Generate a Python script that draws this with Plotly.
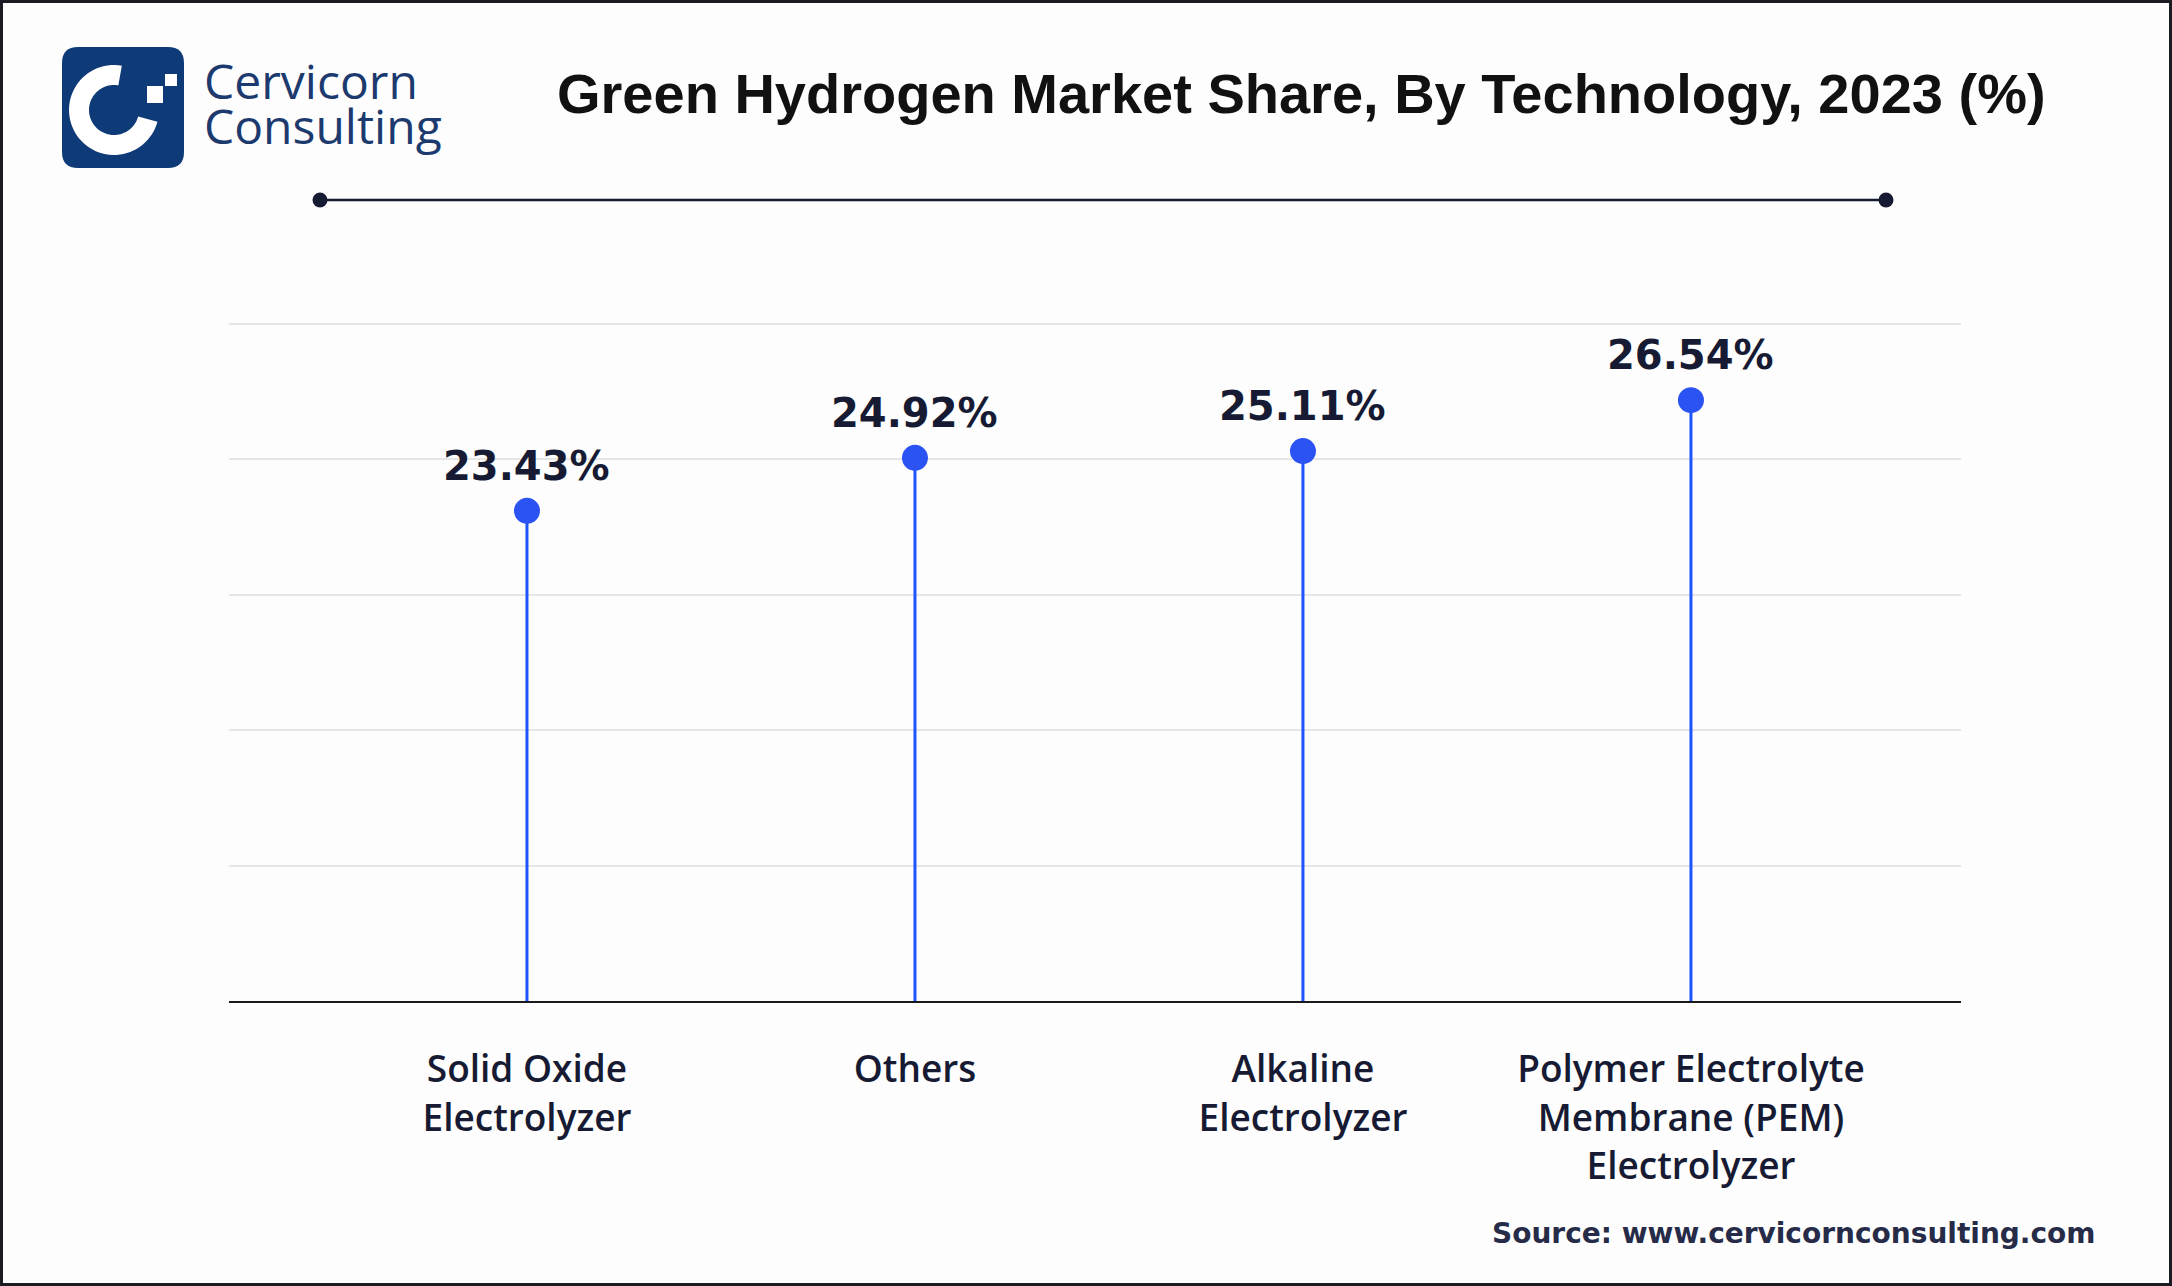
import numpy as np
import plotly.graph_objects as go

# ---------------- data ----------------
categories = [
    "Solid Oxide<br>Electrolyzer",
    "Others",
    "Alkaline<br>Electrolyzer",
    "Polymer Electrolyte<br>Membrane (PEM)<br>Electrolyzer",
]
shares = [23.43, 24.92, 25.11, 26.54]
value_labels = [f"{v:.2f}%" for v in shares]

title_text = "Green Hydrogen Market Share, By Technology, 2023 (%)"
source_text = "Source: www.cervicornconsulting.com"
brand_lines = ["Cervicorn", "Consulting"]

# ---------------- figure geometry ----------------
W, H = 2172, 1286
Y_MIN, Y_MAX = 9.66, 28.68
PAD = 0.2
grid_vals = [Y_MIN + i * (Y_MAX - Y_MIN) / 5 for i in range(6)]
px_per_unit = (1001 - 324) / (Y_MAX - Y_MIN)

INK = "#161b33"
BLUE_LINE = "#1d55fd"
BLUE_DOT = "#2b52f2"


def px(x):
    return x / W


def py(y):
    return 1 - y / H


fig = go.Figure()

# stems
sx, sy = [], []
for c, v in zip(categories, shares):
    sx += [c, c, None]
    sy += [Y_MIN, v, None]
fig.add_trace(go.Scatter(x=sx, y=sy, mode="lines",
                         line=dict(color=BLUE_LINE, width=3),
                         hoverinfo="skip", showlegend=False))
# heads
fig.add_trace(go.Scatter(x=categories, y=shares, mode="markers",
                         marker=dict(color=BLUE_DOT, size=26, line=dict(width=0)),
                         showlegend=False))

# value labels
for c, v, t in zip(categories, shares, value_labels):
    fig.add_annotation(x=c, y=v, xref="x", yref="y", text=t, showarrow=False,
                       yshift=45, yanchor="middle",
                       font=dict(family="DejaVu Sans", size=40, color=INK, weight="bold"))

shapes = []
# outer border
shapes.append(dict(type="rect", xref="paper", yref="paper", x0=px(1.5), x1=px(W - 1.5),
                   y0=py(H - 1.5), y1=py(1.5), line=dict(color="#1b1b24", width=3),
                   fillcolor="rgba(0,0,0,0)", layer="below"))
# decorative rule under title
shapes.append(dict(type="line", xref="paper", yref="paper", x0=px(320), x1=px(1886),
                   y0=py(200), y1=py(200), line=dict(color=INK, width=2.5)))
for cx in (320, 1886):
    shapes.append(dict(type="circle", xref="paper", yref="paper",
                       x0=px(cx - 7.5), x1=px(cx + 7.5), y0=py(200 + 7.5), y1=py(200 - 7.5),
                       fillcolor=INK, line=dict(width=0)))

# logo: rounded square
lx0, lx1, ly0, ly1, r = 62, 184, 47, 168, 16
logo_path = (f"M {px(lx0 + r)},{py(ly0)} L {px(lx1 - r)},{py(ly0)} "
             f"Q {px(lx1)},{py(ly0)} {px(lx1)},{py(ly0 + r)} L {px(lx1)},{py(ly1 - r)} "
             f"Q {px(lx1)},{py(ly1)} {px(lx1 - r)},{py(ly1)} L {px(lx0 + r)},{py(ly1)} "
             f"Q {px(lx0)},{py(ly1)} {px(lx0)},{py(ly1 - r)} L {px(lx0)},{py(ly0 + r)} "
             f"Q {px(lx0)},{py(ly0)} {px(lx0 + r)},{py(ly0)} Z")
shapes.append(dict(type="path", xref="paper", yref="paper", path=logo_path,
                   fillcolor="#0e3a78", line=dict(width=0)))
# logo: white "C" ring
ccx, ccy, ro, ri = 114, 110, 45, 25
ang = np.radians(np.linspace(80, 345, 60))
outer = [(ccx + ro * np.cos(a), ccy - ro * np.sin(a)) for a in ang]
inner = [(ccx + ri * np.cos(a), ccy - ri * np.sin(a)) for a in ang[::-1]]
pts = outer + inner
ring_path = "M " + " L ".join(f"{px(x):.5f},{py(y):.5f}" for x, y in pts) + " Z"
shapes.append(dict(type="path", xref="paper", yref="paper", path=ring_path,
                   fillcolor="white", line=dict(width=0)))
for (x0, y0, x1, y1) in [(147, 86, 163, 103), (165, 74, 177, 86)]:
    shapes.append(dict(type="rect", xref="paper", yref="paper", x0=px(x0), x1=px(x1),
                       y0=py(y1), y1=py(y0), fillcolor="white", line=dict(width=0)))

fig.update_layout(shapes=shapes)

# brand text
fig.add_annotation(x=px(202), y=py(80), xref="paper", yref="paper", text=brand_lines[0],
                   showarrow=False, xanchor="left", yanchor="middle", height=40,
                   font=dict(family="Open Sans", size=48, color="#1c3a6e"))
fig.add_annotation(x=px(202), y=py(126), xref="paper", yref="paper", text=brand_lines[1],
                   showarrow=False, xanchor="left", yanchor="middle",
                   font=dict(family="Open Sans", size=48, color="#1c3a6e"))

# title
fig.add_annotation(x=px(1301), y=py(93), xref="paper", yref="paper", text=title_text,
                   showarrow=False, xanchor="center", yanchor="middle",
                   font=dict(family="Liberation Sans", size=56, color="#111111", weight="bold"))

# source
fig.add_annotation(x=px(2098), y=py(1233), xref="paper", yref="paper", text=source_text,
                   showarrow=False, xanchor="right", yanchor="middle",
                   font=dict(family="DejaVu Sans", size=28, color="#262b48", weight="bold"))

fig.update_layout(
    width=W, height=H,
    margin=dict(l=0, r=0, t=0, b=0),
    paper_bgcolor="#fdfdfd",
    plot_bgcolor="rgba(0,0,0,0)",
    showlegend=False,
    xaxis=dict(domain=[229 / W, 1961 / W], range=[-0.768, 3.696], type="category",
               categoryorder="array", categoryarray=categories,
               showgrid=False, showline=True, linecolor="#1a1a1a", linewidth=2,
               ticks="", zeroline=False, ticklabelstandoff=35,
               tickfont=dict(family="Open Sans", size=37, color=INK, weight=600)),
    yaxis=dict(domain=[1 - 1001 / H, 1 - (324 - PAD * px_per_unit) / H],
               range=[Y_MIN, Y_MAX + PAD],
               showticklabels=False, showgrid=True, gridcolor="#e6e6e6", gridwidth=1.5,
               tickvals=grid_vals, zeroline=False, ticks="", showline=False),
)

fig.write_html("out.html", config={"displayModeBar": False},
               post_script="document.body.style.margin='0';document.body.style.padding='0';")
